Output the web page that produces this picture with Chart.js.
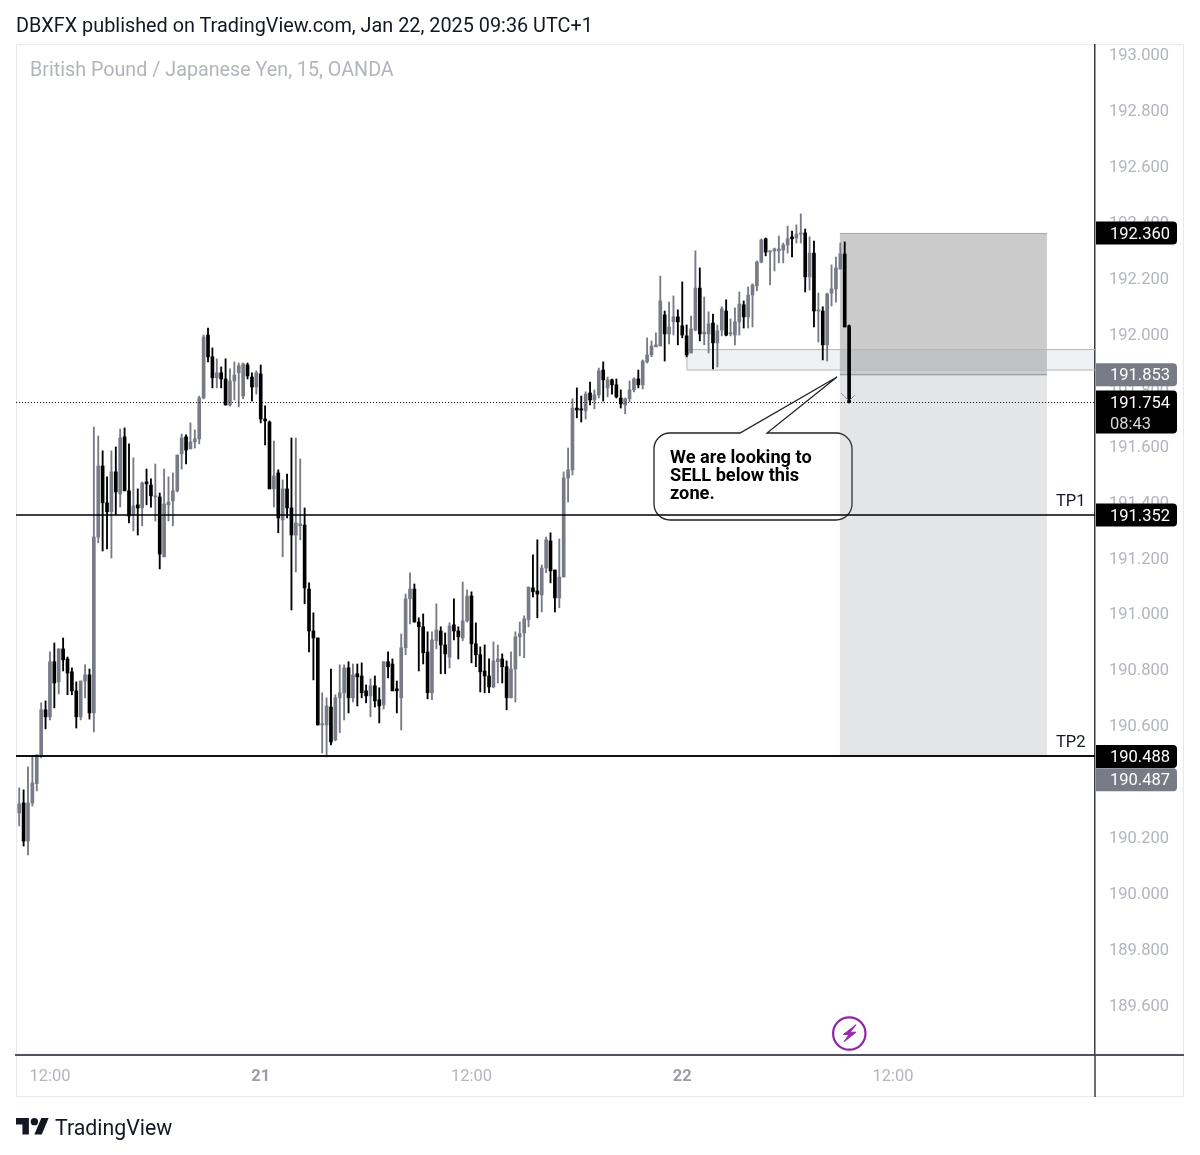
<!DOCTYPE html>
<html><head><meta charset="utf-8">
<script src="https://cdn.jsdelivr.net/npm/chart.js@4"></script>
<style>
html,body{margin:0;padding:0;background:#fff;width:1200px;height:1155px;overflow:hidden}
#wrap{position:relative;width:1200px;height:1155px}
canvas{position:absolute;left:0;top:0}
#head{position:absolute;left:16px;top:14px;font:19.83px Roboto,sans-serif;color:#131722;white-space:nowrap}
#brand{position:absolute;left:55px;top:1114.5px;font:21.3px Roboto,sans-serif;color:#131722;white-space:nowrap}
</style></head><body><div id="wrap">
<canvas id="c" width="1200" height="1155"></canvas>
<div id="head">DBXFX published on TradingView.com, Jan 22, 2025 09:36 UTC+1</div>
<div id="brand">TradingView</div>
</div>
<script>
const chartTitle = "British Pound / Japanese Yen, 15, OANDA";
const firstBar = -7; // bars counted from the 12:00 tick on Jan 20
const opens = [190.286,190.322,190.186,190.322,190.391,190.494,190.655,190.630,190.827,190.755,190.873,190.837,190.791,190.723,190.630,190.758,190.780,190.644,191.273,191.527,191.395,191.363,191.506,191.427,191.631,191.438,191.352,191.388,191.377,191.470,191.459,191.416,191.416,191.202,191.388,191.402,191.438,191.570,191.631,191.588,191.613,191.624,191.770,191.995,191.917,191.842,191.860,191.838,191.745,191.831,191.860,191.777,191.888,191.845,191.809,191.856,191.695,191.684,191.445,191.502,191.334,191.445,191.377,191.280,191.313,191.316,191.087,190.937,190.912,190.601,190.601,190.665,190.548,190.698,190.716,190.805,190.698,190.784,190.776,190.723,190.705,190.741,190.691,190.673,190.827,190.819,190.730,190.698,190.877,191.052,191.087,190.969,190.952,190.862,190.716,190.902,190.937,190.887,190.844,190.959,190.937,190.912,190.973,191.062,190.891,190.852,190.794,190.776,190.737,190.827,190.837,190.809,190.698,190.801,190.916,190.930,190.977,191.091,191.080,191.066,191.162,191.259,191.155,191.055,191.130,191.484,191.513,191.734,191.731,191.724,191.788,191.763,191.781,191.870,191.806,191.835,191.817,191.770,191.745,191.767,191.799,191.838,191.817,191.899,191.924,191.953,191.956,192.067,191.999,192.042,192.060,192.028,191.992,191.931,192.013,192.163,191.999,191.999,192.038,191.967,192.013,192.081,191.999,191.995,192.042,192.103,192.060,192.138,192.171,192.256,192.339,192.292,192.296,192.296,192.299,192.317,192.346,192.342,192.356,192.360,192.203,192.288,192.081,192.081,191.960,192.145,192.160,192.231,192.285,192.028];
const closes = [190.319,190.186,190.322,190.394,190.494,190.655,190.630,190.827,190.751,190.873,190.834,190.787,190.723,190.630,190.758,190.780,190.644,191.273,191.527,191.395,191.363,191.506,191.434,191.627,191.438,191.348,191.384,191.377,191.466,191.463,191.420,191.420,191.212,191.391,191.398,191.438,191.566,191.627,191.584,191.613,191.624,191.770,191.988,191.917,191.842,191.860,191.838,191.745,191.831,191.852,191.885,191.892,191.849,191.809,191.860,191.695,191.688,191.445,191.491,191.341,191.445,191.377,191.280,191.323,191.320,191.091,190.937,190.912,190.601,190.605,190.669,190.540,190.698,190.716,190.805,190.698,190.780,190.773,190.716,190.705,190.741,190.687,190.669,190.827,190.809,190.723,190.723,190.877,191.052,191.087,190.969,190.952,190.859,190.716,190.905,190.941,190.887,190.855,190.955,190.937,190.916,190.973,191.062,190.891,190.852,190.791,190.776,190.737,190.830,190.837,190.809,190.698,190.801,190.916,190.927,190.980,191.094,191.077,191.069,191.162,191.263,191.152,191.055,191.130,191.484,191.513,191.734,191.727,191.727,191.784,191.763,191.781,191.867,191.835,191.835,191.817,191.774,191.749,191.767,191.799,191.838,191.817,191.902,191.924,191.956,191.960,192.117,191.999,192.024,192.060,192.042,191.995,191.924,192.017,192.163,191.999,192.006,192.035,191.967,192.010,192.088,191.995,192.003,192.042,192.106,192.060,192.138,192.174,192.256,192.335,192.292,192.296,192.303,192.303,192.317,192.339,192.339,192.356,192.360,192.203,192.288,192.081,192.085,191.960,192.142,192.160,192.235,192.285,192.024,191.754];
const highs = [190.376,190.369,190.451,190.487,190.494,190.680,190.687,190.862,190.894,190.873,190.912,190.844,190.805,190.755,190.758,190.816,190.801,191.666,191.634,191.581,191.488,191.581,191.595,191.659,191.663,191.606,191.556,191.445,191.470,191.516,191.481,191.534,191.430,191.516,191.488,191.502,191.566,191.641,191.638,191.681,191.656,191.777,191.995,192.020,191.949,191.910,191.881,191.910,191.874,191.899,191.895,191.895,191.895,191.860,191.867,191.888,191.742,191.688,191.616,191.513,191.477,191.498,191.627,191.627,191.552,191.377,191.109,191.002,190.912,190.716,190.698,190.801,190.709,190.816,190.816,190.827,190.819,190.819,190.823,190.744,190.766,190.776,190.734,190.827,190.862,190.837,190.758,190.926,191.069,191.145,191.105,190.984,190.998,190.934,190.934,191.034,190.952,190.930,190.966,191.052,190.952,191.112,191.084,191.077,190.966,190.880,190.887,190.837,190.898,190.887,190.855,190.830,190.862,190.934,190.969,190.991,191.094,191.209,191.263,191.173,191.273,191.288,191.155,191.266,191.506,191.591,191.767,191.806,191.777,191.792,191.827,191.799,191.877,191.899,191.845,191.838,191.838,191.799,191.770,191.831,191.842,191.870,191.906,191.985,191.974,192.003,192.206,192.081,192.113,192.135,192.085,192.185,192.031,192.063,192.296,192.235,192.131,192.078,192.070,192.031,192.096,192.121,192.053,192.092,192.149,192.117,192.167,192.178,192.260,192.339,192.342,192.296,192.306,192.349,192.324,192.385,192.367,192.389,192.428,192.374,192.346,192.331,192.145,192.096,192.145,192.246,192.274,192.324,192.328,192.031];
const lows = [190.240,190.168,190.136,190.311,190.365,190.483,190.587,190.619,190.662,190.712,190.794,190.709,190.709,190.590,190.619,190.698,190.622,190.576,191.252,191.223,191.230,191.198,191.352,191.380,191.438,191.323,191.295,191.280,191.313,191.388,191.380,191.330,191.159,191.202,191.330,191.313,191.434,191.516,191.534,191.588,191.591,191.606,191.767,191.899,191.806,191.806,191.806,191.745,191.741,191.763,191.738,191.767,191.838,191.759,191.784,191.681,191.602,191.445,191.380,191.288,191.202,191.341,191.012,191.148,191.263,191.034,190.862,190.762,190.601,190.501,190.487,190.530,190.544,190.573,190.619,190.644,190.683,190.669,190.698,190.680,190.630,190.665,190.608,190.658,190.769,190.723,190.644,190.583,190.852,190.962,190.969,190.794,190.819,190.694,190.691,190.873,190.784,190.784,190.805,190.905,190.837,190.902,190.969,190.823,190.809,190.719,190.716,190.716,190.734,190.751,190.751,190.655,190.698,190.683,190.848,190.841,190.952,191.059,190.984,191.005,191.145,191.109,191.005,191.020,191.130,191.398,191.495,191.699,191.684,191.695,191.745,191.731,191.770,191.759,191.774,191.784,191.770,191.734,191.713,191.756,191.792,191.806,191.802,191.895,191.917,191.953,191.956,191.902,191.963,191.995,191.960,191.985,191.917,191.931,192.010,191.974,191.960,191.931,191.874,191.881,191.992,191.992,191.992,191.960,191.995,192.020,192.020,192.024,192.153,192.253,192.278,192.174,192.224,192.253,192.253,192.288,192.274,192.324,192.324,192.149,192.156,192.024,191.970,191.906,191.902,192.099,192.113,192.231,192.024,191.752];
const timeTickBars = [0,48,96,144,192];
const timeTickLabels = ["12:00","21","12:00","22","12:00"];
const priceTicks = [189.6,189.8,190,190.2,190.4,190.6,190.8,191,191.2,191.4,191.6,191.8,192,192.2,192.4,192.6,192.8,193];
const lastPrice = 191.754, countdown = "08:43";
const stopPrice = 192.36, entryPrice = 191.853, tp1 = 191.352, tp2 = 190.488, tp2Tag = 190.487;
const zoneTop = 191.943, zoneBottom = 191.87, zoneStartBar = 145.07;
const posStartBar = 179.9, posEndBar = 227.05;
const calloutLines = ["We are looking to","SELL below this","zone."];

const UP="#787b86", DOWN="#000000", TXT="#131722", AXIS="#b2b5be";
const FONT='Roboto, sans-serif';
const colorAt = i => closes[i]>=opens[i] ? UP : DOWN;
const wicks = highs.map((h,i)=>({x:firstBar+i,y:[lows[i],h]}));
const bodies = opens.map((o,i)=>({x:firstBar+i,y:[o,closes[i]]}));

function rr(ctx,x,y,w,h,r){ctx.beginPath();ctx.roundRect(x,y,w,h,r);}

const annot = {
  id:'annot',
  beforeDraw(ch){const c=ch.ctx;c.save();c.fillStyle='#fff';c.fillRect(0,0,1200,1155);
    c.strokeStyle='#e8e9ee';c.lineWidth=1;c.strokeRect(16.5,44.5,1167,1052);c.restore();},
  beforeDatasetsDraw(ch){
    const c=ch.ctx,X=ch.scales.x,Y=ch.scales.y,a=ch.chartArea;
    c.save();
    c.font='400 19.73px '+FONT;c.fillStyle=AXIS;c.textBaseline='middle';c.fillText(chartTitle,30,71);
    // callout
    const bx=654,by=433,bw=198,bh=87;
    c.beginPath();
    c.moveTo(bx+16,by);c.lineTo(740,by);c.lineTo(837,377);c.lineTo(767,by);c.lineTo(bx+bw-16,by);
    c.arcTo(bx+bw,by,bx+bw,by+16,16);c.lineTo(bx+bw,by+bh-16);c.arcTo(bx+bw,by+bh,bx+bw-16,by+bh,16);
    c.lineTo(bx+16,by+bh);c.arcTo(bx,by+bh,bx,by+bh-16,16);c.lineTo(bx,by+16);c.arcTo(bx,by,bx+16,by,16);c.closePath();
    c.fillStyle='#fff';c.fill();c.strokeStyle='#222';c.lineWidth=1.3;c.stroke();
    c.fillStyle='#000';c.font='700 18.2px '+FONT;c.textBaseline='middle';
    calloutLines.forEach((t,i)=>c.fillText(t,670,458+i*18));
    // position box
    const x0=X.getPixelForValue(posStartBar),x1=X.getPixelForValue(posEndBar);
    const yS=Y.getPixelForValue(stopPrice),yE=Y.getPixelForValue(entryPrice),yT=Y.getPixelForValue(tp2);
    c.fillStyle='rgba(120,120,120,0.385)';c.fillRect(x0,yS,x1-x0,yE-yS);
    c.fillStyle='rgba(120,123,134,0.2)';c.fillRect(x0,yE,x1-x0,yT-yE);
    c.strokeStyle='#aaaaaa';c.lineWidth=1;c.beginPath();c.moveTo(x0,yS+.5);c.lineTo(x1,yS+.5);c.stroke();
    c.strokeStyle='#8a8d96';c.lineWidth=1.2;c.beginPath();c.moveTo(x0,yE);c.lineTo(x1,yE);c.stroke();
    // zone
    const zx=X.getPixelForValue(zoneStartBar),zt=Y.getPixelForValue(zoneTop),zb=Y.getPixelForValue(zoneBottom);
    c.fillStyle='rgba(120,123,134,0.11)';c.fillRect(zx,zt,a.right-zx,zb-zt);
    c.strokeStyle='#b4b6bc';c.lineWidth=1;c.beginPath();c.moveTo(a.right,zt);c.lineTo(zx,zt);c.lineTo(zx,zb);c.lineTo(a.right,zb);c.stroke();
    c.restore();
  },
  afterDatasetsDraw(ch){
    const c=ch.ctx,X=ch.scales.x,Y=ch.scales.y,a=ch.chartArea;
    c.save();
    // axis stubs beyond the plot area
    c.strokeStyle='#50535e';c.lineWidth=2;c.beginPath();c.moveTo(a.right,a.bottom);c.lineTo(1184,a.bottom);c.stroke();
    c.strokeStyle='#3a3c44';c.lineWidth=1.5;c.beginPath();c.moveTo(a.right,a.bottom);c.lineTo(a.right,1097);c.stroke();
    // dotted last price
    const yL=Y.getPixelForValue(lastPrice);
    c.strokeStyle='#111';c.lineWidth=1;c.setLineDash([1,2]);
    c.beginPath();c.moveTo(a.left,Math.round(yL)+.5);c.lineTo(a.right,Math.round(yL)+.5);c.stroke();c.setLineDash([]);
    // TP lines
    c.strokeStyle='#000';c.lineWidth=1.5;
    const y1=Math.round(Y.getPixelForValue(tp1)),y2=Math.floor(Y.getPixelForValue(tp2));
    c.beginPath();c.moveTo(a.left,y1);c.lineTo(a.right,y1);c.stroke();
    c.strokeStyle='#111';c.lineWidth=2;c.beginPath();c.moveTo(a.left,y2);c.lineTo(a.right,y2);c.stroke();
    c.fillStyle=TXT;c.font='16.5px '+FONT;c.textBaseline='middle';
    c.fillText("TP1",1056,501.5);c.fillText("TP2",1056,743);
    // arrow head at the last bar
    c.strokeStyle='#8a8d96';c.lineWidth=1;c.beginPath();c.moveTo(841,393);c.lineTo(848,400);c.moveTo(855,395);c.lineTo(850,400);c.stroke();
    // lightning
    const cx=849.3,cy=1033.5;
    c.strokeStyle='#8e24aa';c.lineWidth=2.2;c.beginPath();c.arc(cx,cy,16.2,0,Math.PI*2);c.stroke();
    c.fillStyle='#9c27b0';c.strokeStyle='#9c27b0';c.lineWidth=1;c.beginPath();
    [[6.7,-8.7],[-6,1],[-0.3,1],[-5.3,8.3],[6.7,-1.3],[0.7,-1.3]].forEach((p,i)=>i?c.lineTo(cx+p[0],cy+p[1]):c.moveTo(cx+p[0],cy+p[1]));
    c.closePath();c.fill();c.stroke();
    // price tags
    const tag=(p,col,h,label,sub,shift=0)=>{
      const y=Y.getPixelForValue(p)+shift;
      const top=sub?y-12:y-11.5;
      c.fillStyle=col;rr(c,1096,top,81,h,[0,4,4,0]);c.fill();
      c.fillStyle='#fff';c.font='16.5px '+FONT;c.textBaseline='middle';c.fillText(label,1110,y+1.5);
      if(sub){c.fillStyle='#d6d6d6';c.fillText(sub,1110,y+22);}
    };
    tag(entryPrice,UP,23,entryPrice.toFixed(3));
    tag(tp2Tag,UP,23,tp2Tag.toFixed(3),null,23);
    tag(stopPrice,'#000',23,stopPrice.toFixed(3));
    tag(lastPrice,'#000',43,lastPrice.toFixed(3),countdown);
    tag(tp1,'#000',23,tp1.toFixed(3));
    tag(tp2,'#000',23,tp2.toFixed(3));
    // logo
    const logo=new Path2D("M14 22H7V11H0V4h14v18zM28 22h-8l7.5-18h8L28 22z");
    c.translate(16,1118-4*.92);c.scale(.92,.92);c.fillStyle=TXT;c.fill(logo);
    c.beginPath();c.arc(20,8,4,0,Math.PI*2);c.fill();
    c.restore();
  }
};

new Chart(document.getElementById('c'),{
  type:'bar',
  data:{datasets:[
    {label:'Body',data:bodies,order:1,grouped:false,barThickness:3,minBarLength:1.2,
      backgroundColor:ctx=>colorAt(ctx.dataIndex)},
    {label:'Wick',data:wicks,order:2,grouped:false,barThickness:1.2,
      backgroundColor:ctx=>colorAt(ctx.dataIndex)}
  ]},
  options:{
    responsive:false,animation:false,devicePixelRatio:1,
    layout:{padding:{left:16,top:45,right:16,bottom:58}},
    plugins:{legend:{display:false},tooltip:{enabled:false},title:{display:false}},
    datasets:{bar:{grouped:false}},
    scales:{
      x:{type:'linear',min:-7.73,max:238,offset:false,
        grid:{display:false,drawTicks:false},
        border:{display:true,color:'#50535e',width:2},
        afterBuildTicks(s){s.ticks=timeTickBars.map(v=>({value:v}));},
        afterFit(s){s.height=42;},
        ticks:{autoSkip:false,maxRotation:0,padding:12,color:ctx=>ctx.index%2===1?'#9a9da6':AXIS,
          font:ctx=>({family:FONT,size:16.5,weight:ctx.index%2===1?'700':'400'}),
          callback:(v)=>timeTickLabels[timeTickBars.indexOf(v)]}},
      y:{type:'linear',position:'right',min:189.421,max:193.032,
        grid:{display:false,drawTicks:false},
        border:{display:true,color:'#3a3c44',width:1.5},
        afterBuildTicks(s){s.ticks=priceTicks.map(v=>({value:v}));},
        afterFit(s){s.width=89;},
        ticks:{autoSkip:false,padding:14,labelOffset:2,color:AXIS,font:{family:FONT,size:16.5},
          callback:v=>v.toFixed(3)}}
    }
  },
  plugins:[annot]
});
</script></body></html>
